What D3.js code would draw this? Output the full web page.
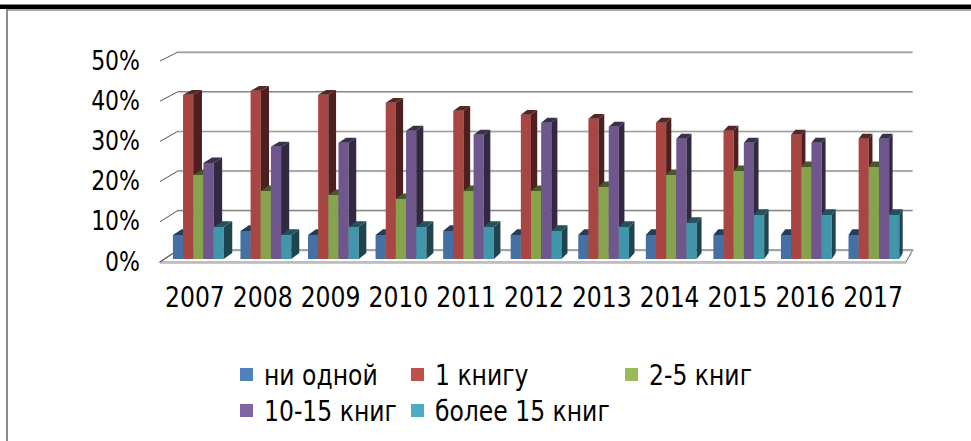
<!DOCTYPE html>
<html>
<head>
<meta charset="utf-8">
<script src="https://cdn.jsdelivr.net/npm/d3@7"></script>
<style>
  body { margin: 0; background: #fff; }
  svg { display: block; }
  text { font-family: "DejaVu Sans", sans-serif; fill: #000; }
</style>
</head>
<body>
<svg id="chart" width="971" height="441"></svg>
<script>
const years = ['2007', '2008', '2009', '2010', '2011', '2012', '2013', '2014', '2015', '2016', '2017'];
const seriesNames = ['ни одной', '1 книгу', '2-5 книг', '10-15 книг', 'более 15 книг'];
const niOdnoy = [6, 7, 6, 6, 7, 6, 6, 6, 6, 6, 6];
const odnaKniga = [41, 42, 41, 39, 37, 36, 35, 34, 32, 31, 30];
const dvePyat = [21, 17, 16, 15, 17, 17, 18, 21, 22, 23, 23];
const desyatPyatnadtsat = [24, 28, 29, 32, 31, 34, 33, 30, 29, 29, 30];
const boleePyatnadtsati = [8, 6, 8, 8, 8, 7, 8, 9, 11, 11, 11];
const yTicks = [0, 10, 20, 30, 40, 50];

const seriesValues = [niOdnoy, odnaKniga, dvePyat, desyatPyatnadtsat, boleePyatnadtsati];
const baseColors = ['#4F81BD', '#C0504D', '#9BBB59', '#8064A2', '#4BACC6'];

// шрифт в оригинале немного вытянут по вертикали
const TEXT_STRETCH = 1.18;

function shade(hex, k) {
  const c = d3.rgb(hex);
  return d3.rgb(c.r * k, c.g * k, c.b * k).formatHex();
}

const svg = d3.select('#chart');

// перспектива: точка схода справа сверху
const VP = [1348, -530];
const T = 0.01515;
function proj(px, py, d) {
  return [px + d * T * (VP[0] - px), py + d * T * (VP[1] - py)];
}
const pts = (arr) => arr.map((p) => p.join(',')).join(' ');

const x0 = d3.scaleBand().domain(years).range([160, 906]).paddingInner(0.248).paddingOuter(0.124);
const x1 = d3.scaleBand().domain(d3.range(seriesNames.length)).range([0, x0.bandwidth()]);
const y = d3.scaleLinear().domain([0, 50]).range([262, 61]);

// рамка
svg.append('rect').attr('x', 0).attr('y', 4.5).attr('width', 971).attr('height', 4.5).attr('fill', '#000');
svg.append('line').attr('x1', 6).attr('x2', 971).attr('y1', 10).attr('y2', 10)
  .attr('stroke', '#8c8c8c').attr('stroke-width', 1.6);
svg.append('line').attr('x1', 7).attr('x2', 7).attr('y1', 9).attr('y2', 441)
  .attr('stroke', '#8c8c8c').attr('stroke-width', 2);

const [xMin, xMax] = x0.range();

// пол
const floor = [proj(xMin, y(0), 0), proj(xMax, y(0), 0), proj(xMax, y(0), 1), proj(xMin, y(0), 1)];
svg.append('polygon').attr('points', pts(floor)).attr('fill', '#fff')
  .attr('stroke', '#7f7f7f').attr('stroke-width', 1.2);
svg.append('line').attr('x1', xMin).attr('x2', xMax).attr('y1', y(0) + 1.5).attr('y2', y(0) + 1.5)
  .attr('stroke', '#c8c8c8').attr('stroke-width', 1);

// сетка на задней и боковой стенке
const grid = svg.append('g');
yTicks.forEach((v) => {
  const a = proj(xMin, y(v), 1);
  const b = proj(xMax, y(v), 1);
  grid.append('line').attr('x1', a[0]).attr('y1', a[1] + 1).attr('x2', b[0]).attr('y2', b[1] + 1)
    .attr('stroke', '#d2d2d2').attr('stroke-width', 1);
  grid.append('line').attr('x1', a[0]).attr('y1', a[1]).attr('x2', b[0]).attr('y2', b[1])
    .attr('stroke', '#868686').attr('stroke-width', 1.2);
  grid.append('line').attr('x1', xMin).attr('y1', y(v)).attr('x2', a[0]).attr('y2', a[1])
    .attr('stroke', '#555').attr('stroke-width', 1);
});

// столбцы
const bars = [];
years.forEach((yr, i) => {
  seriesValues.forEach((vals, j) => {
    bars.push({ yr, j, v: vals[i] });
  });
});
const d0 = 0.25, d1 = 0.75;
const barG = svg.append('g').selectAll('g.bar').data(bars).join('g').attr('class', 'bar');
barG.each(function (d) {
  const g = d3.select(this);
  const xl = x0(d.yr) + x1(d.j);
  const xr = xl + x1.bandwidth();
  const yt = y(d.v), yb = y(0);
  const c = baseColors[d.j];
  g.append('polygon')
    .attr('points', pts([proj(xl, yt, d0), proj(xr, yt, d0), proj(xr, yb, d0), proj(xl, yb, d0)]))
    .attr('fill', shade(c, 0.87));
  g.append('polygon')
    .attr('points', pts([proj(xr, yt, d0), proj(xr, yt, d1), proj(xr, yb, d1), proj(xr, yb, d0)]))
    .attr('fill', shade(c, 0.4));
  g.append('polygon')
    .attr('points', pts([proj(xl, yt, d0), proj(xr, yt, d0), proj(xr, yt, d1), proj(xl, yt, d1)]))
    .attr('fill', shade(c, 0.47));
});

// подписи оси Y
svg.append('g').selectAll('text').data(yTicks).join('text')
  .attr('transform', (v) => `translate(140,${y(v)}) scale(1,${TEXT_STRETCH})`)
  .attr('text-anchor', 'end').attr('dominant-baseline', 'central')
  .style('font-size', '22px')
  .text((v) => v + '%');

// подписи оси X
svg.append('g').selectAll('text').data(years).join('text')
  .attr('transform', (yr) => `translate(${x0(yr) + x0.bandwidth() / 2 + 1},297) scale(1,${TEXT_STRETCH})`)
  .attr('text-anchor', 'middle').attr('dominant-baseline', 'central')
  .style('font-size', '23.5px')
  .text((yr) => yr);

// легенда
const legendPos = [[240, 368], [411, 368], [625, 368], [240, 404], [411, 404]];
const leg = svg.append('g').selectAll('g').data(seriesNames).join('g')
  .attr('transform', (d, i) => `translate(${legendPos[i][0]},${legendPos[i][1]})`);
leg.append('rect').attr('width', 13).attr('height', 13).attr('fill', (d, i) => baseColors[i]);
leg.append('text')
  .attr('transform', `translate(24,7) scale(1,${TEXT_STRETCH})`)
  .attr('dominant-baseline', 'central')
  .style('font-size', '23.5px').text((d) => d);
</script>
</body>
</html>
